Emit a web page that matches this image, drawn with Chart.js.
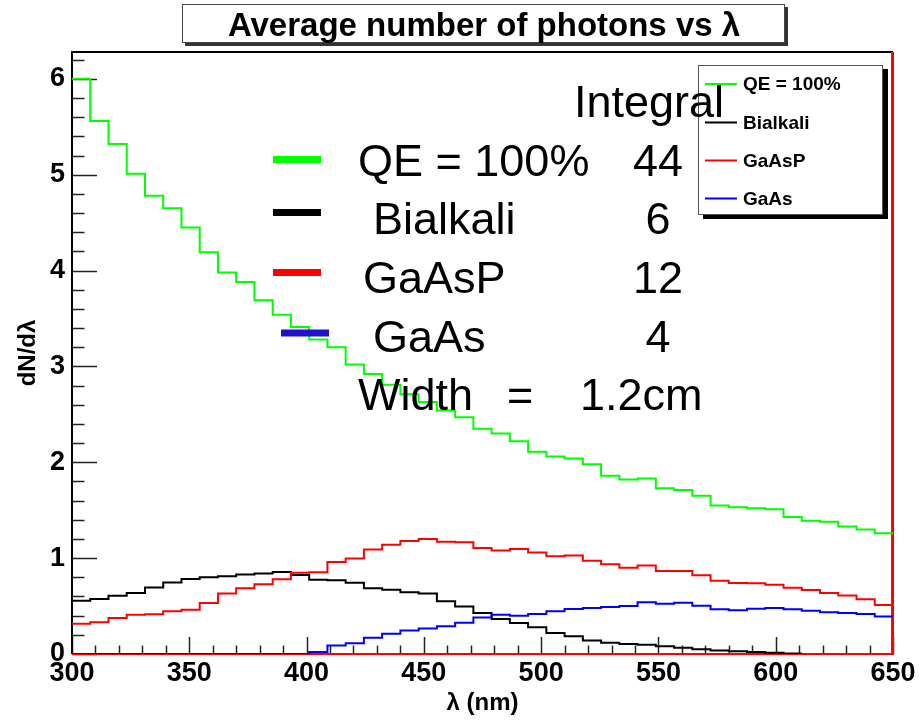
<!DOCTYPE html>
<html><head><meta charset="utf-8">
<script src="https://cdn.jsdelivr.net/npm/chart.js@4.4.0/dist/chart.umd.min.js"></script>
<style>html,body{margin:0;padding:0;background:#fff}canvas{display:block}</style>
</head><body>
<canvas id="c" width="920" height="720"></canvas>
<script>
// ---- data ----
const X_MIN = 300, X_MAX = 650, N_BINS = 45;
const Y_MIN = 0, Y_MAX = 6.28;
const xTickLabels = [300, 350, 400, 450, 500, 550, 600, 650];
const yTickLabels = [0, 1, 2, 3, 4, 5, 6];
const seriesNames = ['QE = 100%', 'Bialkali', 'GaAsP', 'GaAs'];
const integrals = ['44', '6', '12', '4'];
const widthLabel = ['Width', '=', '1.2cm'];

const qe100 = [6.00,5.56,5.32,5.01,4.78,4.65,4.45,4.19,3.98,3.88,
  3.69,3.54,3.41,3.28,3.20,3.02,2.92,2.81,2.71,2.63,
  2.54,2.47,2.35,2.30,2.22,2.11,2.06,2.04,1.98,1.86,
  1.82,1.83,1.73,1.71,1.65,1.55,1.53,1.52,1.51,1.43,
  1.39,1.38,1.33,1.30,1.26];
const bialkali = [0.556,0.574,0.608,0.636,0.695,0.747,0.782,0.800,0.810,0.830,
  0.840,0.855,0.825,0.775,0.770,0.742,0.685,0.670,0.645,0.630,
  0.550,0.495,0.428,0.366,0.323,0.279,0.219,0.184,0.142,0.118,
  0.105,0.097,0.082,0.066,0.050,0.037,0.028,0.022,0.012,0.006];
const gaasp = [0.316,0.330,0.375,0.410,0.415,0.445,0.462,0.532,0.630,0.685,
  0.727,0.780,0.848,0.853,0.960,0.995,1.090,1.140,1.180,1.200,
  1.170,1.167,1.106,1.080,1.096,1.060,1.019,1.028,0.972,0.937,
  0.900,0.922,0.865,0.865,0.822,0.763,0.741,0.738,0.723,0.692,
  0.667,0.636,0.609,0.570,0.510];
const gaas = [0,0,0,0,0,0,0,0,0,0,
  0,0,0,0.020,0.088,0.112,0.170,0.210,0.245,0.265,
  0.290,0.327,0.380,0.410,0.400,0.418,0.445,0.470,0.480,0.490,
  0.500,0.540,0.523,0.535,0.504,0.466,0.457,0.471,0.480,0.466,
  0.452,0.436,0.428,0.417,0.392];

const seriesValues = [qe100, bialkali, gaasp, gaas];
const seriesColors = ['#00ff00', '#000000', '#ff0000', '#0000ff'];
const markerColors = ['#00ff00', '#000000', '#ff0000', '#2211cc'];

// ---- helpers ----
const binW = (X_MAX - X_MIN) / N_BINS;
function histPoints(vals) {
  const pts = vals.map((v, i) => ({x: X_MIN + i * binW, y: v}));
  pts.push({x: X_MIN + vals.length * binW, y: vals[vals.length - 1]});
  return pts;
}
const FONT = '"Liberation Sans", Arial, Helvetica, sans-serif';
Chart.defaults.font.family = FONT;
Chart.defaults.color = '#000';

const drawOrder = [3, 2, 1, 0];
const datasets = seriesValues.map((vals, i) => ({
  label: seriesNames[i],
  data: histPoints(vals),
  borderColor: seriesColors[i],
  backgroundColor: seriesColors[i],
  borderWidth: 2,
  pointRadius: 0,
  fill: false,
  stepped: 'before',
  tension: 0,
  order: drawOrder[i]
}));

// frame + inside tick marks
const framePlugin = {
  id: 'frame',
  beforeDatasetsDraw(chart) {
    const {ctx, chartArea: a, scales: {x, y}} = chart;
    ctx.save();
    // ticks
    ctx.strokeStyle = '#222';
    ctx.lineWidth = 1.5;
    ctx.beginPath();
    for (let v = X_MIN; v <= X_MAX + 1e-6; v += 10) {
      const px = Math.round(x.getPixelForValue(v)) + 0.5;
      const len = (v % 50 === 0) ? 17 : 8.5;
      ctx.moveTo(px, a.bottom); ctx.lineTo(px, a.bottom - len);
    }
    for (let k = 0; k * 0.2 <= Y_MAX + 1e-6; k++) {
      const v = k * 0.2;
      const py = Math.round(y.getPixelForValue(v)) + 0.5;
      const len = (k % 5 === 0) ? 25 : 12.5;
      ctx.moveTo(a.left, py); ctx.lineTo(a.left + len, py);
    }
    ctx.stroke();
    // frame
    ctx.lineWidth = 2;
    ctx.strokeStyle = '#000';
    ctx.beginPath();
    ctx.moveTo(a.left, a.bottom); ctx.lineTo(a.left, a.top); ctx.lineTo(a.right, a.top);
    ctx.stroke();
    ctx.lineWidth = 1;
    ctx.strokeStyle = '#555';
    ctx.beginPath();
    ctx.moveTo(a.right - 1.5, a.top); ctx.lineTo(a.right - 1.5, a.bottom);
    ctx.stroke();
    ctx.lineWidth = 2;
    ctx.strokeStyle = '#ff0000';
    ctx.beginPath();
    ctx.moveTo(a.left, a.bottom); ctx.lineTo(a.right, a.bottom); ctx.lineTo(a.right, a.top);
    ctx.stroke();
    ctx.restore();
  }
};

// title box, legend, annotations
const overlayPlugin = {
  id: 'overlay',
  afterDraw(chart) {
    const ctx = chart.ctx;
    ctx.save();
    // title box
    ctx.fillStyle = '#333';
    ctx.fillRect(185, 7, 603, 39);
    ctx.fillStyle = '#fff';
    ctx.fillRect(182, 4, 603, 39);
    ctx.strokeStyle = '#444';
    ctx.lineWidth = 1;
    ctx.strokeRect(182.5, 4.5, 602, 38);
    ctx.fillStyle = '#000';
    ctx.font = 'bold 33px ' + FONT;
    ctx.textAlign = 'center';
    ctx.textBaseline = 'alphabetic';
    ctx.fillText('Average number of photons vs \u03bb', 484, 36);

    // legend box
    ctx.fillStyle = '#000';
    ctx.fillRect(703, 69, 185, 150);
    ctx.fillStyle = '#fff';
    ctx.fillRect(698, 65, 185, 150);
    ctx.strokeStyle = '#555';
    ctx.strokeRect(698.5, 65.5, 184, 149);
    const ly = [84, 122.5, 160.5, 198.5];
    ctx.font = 'bold 19px ' + FONT;
    ctx.textAlign = 'left';
    ctx.textBaseline = 'middle';
    seriesNames.forEach((n, i) => {
      ctx.strokeStyle = seriesColors[i];
      ctx.lineWidth = 2;
      ctx.beginPath(); ctx.moveTo(705, ly[i]); ctx.lineTo(737, ly[i]); ctx.stroke();
      ctx.fillStyle = '#000';
      ctx.fillText(n, 743, ly[i] + 1);
    });

    // big annotation text
    ctx.font = '45px ' + FONT;
    ctx.textBaseline = 'alphabetic';
    ctx.fillStyle = '#000';
    ctx.textAlign = 'left';
    ctx.fillText('Integral', 574, 117);
    const rowBase = [176, 234, 293, 352];
    const nameX = [358, 373, 363, 373];
    const barY = [159.5, 212.5, 272.5, 333];
    const barX = [273, 273, 273, 281];
    seriesNames.forEach((n, i) => {
      ctx.fillStyle = markerColors[i];
      ctx.fillRect(barX[i], barY[i] - 3.5, 48, 7);
      ctx.fillStyle = '#000';
      ctx.textAlign = 'left';
      ctx.fillText(n, nameX[i], rowBase[i]);
      ctx.textAlign = 'center';
      ctx.fillText(integrals[i], 658, rowBase[i]);
    });
    ctx.textAlign = 'left';
    ctx.fillText(widthLabel[0], 358, 410);
    ctx.fillText(widthLabel[1], 507, 410);
    ctx.fillText(widthLabel[2], 580, 410);
    ctx.restore();
  }
};

new Chart(document.getElementById('c'), {
  type: 'line',
  data: {datasets},
  options: {
    responsive: false,
    animation: false,
    devicePixelRatio: 1,
    layout: {padding: {top: 52, right: 27, left: 0, bottom: 0}},
    plugins: {legend: {display: false}, tooltip: {enabled: false}, title: {display: false}},
    scales: {
      x: {
        type: 'linear', min: X_MIN, max: X_MAX,
        grid: {display: false, drawTicks: false},
        border: {display: false},
        afterBuildTicks(s) { s.ticks = xTickLabels.map(v => ({value: v})); },
        afterFit(s) { s.height = 66; s.paddingLeft = 0; s.paddingRight = 0; },
        ticks: {font: {size: 27, weight: 'bold'}, color: '#000', padding: 3, maxRotation: 0, autoSkip: false},
        title: {display: true, text: '\u03bb (nm)', font: {size: 24, weight: 'bold'}, color: '#000', padding: {top: 0, bottom: 2}}
      },
      y: {
        type: 'linear', min: Y_MIN, max: Y_MAX,
        grid: {display: false, drawTicks: false},
        border: {display: false},
        afterBuildTicks(s) { s.ticks = yTickLabels.map(v => ({value: v})); },
        afterFit(s) { s.width = 72; s.paddingTop = 0; s.paddingBottom = 0; },
        ticks: {font: {size: 27, weight: 'bold'}, color: '#000', padding: 7, includeBounds: false},
        title: {display: true, text: 'dN/d\u03bb', font: {size: 24, weight: 'bold'}, color: '#000', padding: {top: 14, bottom: 0}}
      }
    }
  },
  plugins: [framePlugin, overlayPlugin]
});
</script>
</body></html>
